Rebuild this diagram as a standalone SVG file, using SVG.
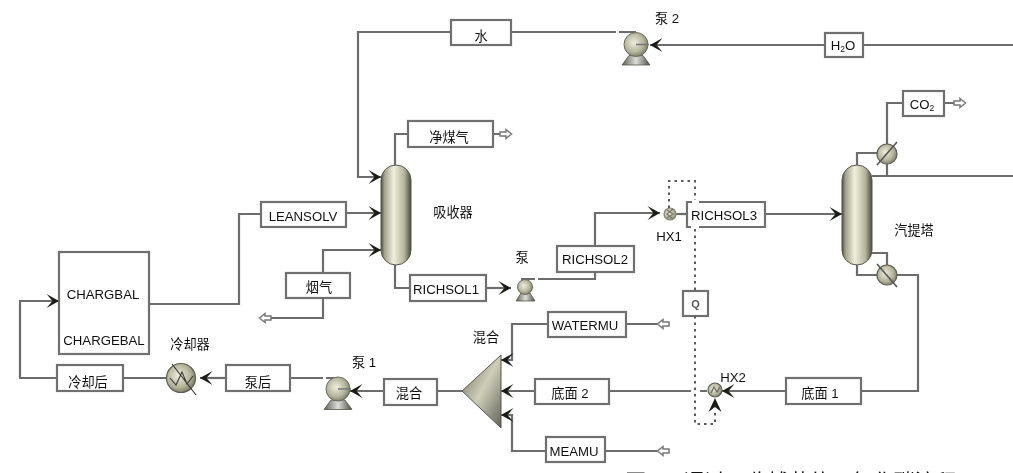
<svg xmlns="http://www.w3.org/2000/svg" width="1013" height="473" viewBox="0 0 1013 473">
<style>
text{font-family:"Liberation Sans","Noto Sans CJK SC",sans-serif;font-size:13.2px;fill:#111;text-anchor:middle}
.box{fill:#fff;stroke:#707070;stroke-width:2.2}
.ln{fill:none;stroke:#6c6c6c;stroke-width:2.2}
.dash{fill:none;stroke:#5a5a5a;stroke-width:2;stroke-dasharray:2.5 4}
.dk{fill:#1e1e18;stroke:none}
.hollow{fill:#fff;stroke:#777;stroke-width:1.5}
.hx{fill:url(#ball);stroke:#5f5f52;stroke-width:1.2}
.in{fill:none;stroke:#444;stroke-width:1.2}
</style>
<defs>
<linearGradient id="col" x1="0" x2="1" y1="0" y2="0">
<stop offset="0" stop-color="#4e4e42"/><stop offset=".12" stop-color="#a3a38c"/><stop offset=".42" stop-color="#f0efdc"/><stop offset=".78" stop-color="#b4b49c"/><stop offset="1" stop-color="#4a4a3e"/>
</linearGradient>
<radialGradient id="ball" cx=".42" cy=".42" r=".68">
<stop offset="0" stop-color="#eeeedd"/><stop offset=".6" stop-color="#b3b39a"/><stop offset="1" stop-color="#66665a"/>
</radialGradient>
<linearGradient id="tri" x1="0" x2="1" y1="0" y2="1">
<stop offset="0" stop-color="#67675a"/><stop offset=".5" stop-color="#cfcfb8"/><stop offset="1" stop-color="#62625a"/>
</linearGradient>
<linearGradient id="base" x1="0" x2="1" y1="0" y2="0">
<stop offset="0" stop-color="#5e5e52"/><stop offset=".5" stop-color="#dededa"/><stop offset="1" stop-color="#4e4e44"/>
</linearGradient>
<marker id="a" markerUnits="userSpaceOnUse" markerWidth="16" markerHeight="16" refX="13" refY="7" orient="auto" overflow="visible">
<path class="dk" d="M13 7 L0.5 0 L6.5 7 L0.5 14Z"/>
</marker>
<filter id="soft" x="-2%" y="-2%" width="104%" height="104%"><feGaussianBlur stdDeviation="0.4"/></filter>
<g id="pump"><path d="M-14 20.5 L14 20.5 L7 11 L-7 11Z" fill="url(#base)" stroke="#55554a" stroke-width=".8"/><circle r="12" fill="url(#ball)" stroke="#6a6a5e"/><path d="M0 0H13" stroke="#777" stroke-width="1.5"/></g>
<path id="out" d="M-6 -2 L0 -2 L0 -4.5 L5.5 0 L0 4.5 L0 2 L-6 2Z"/>
<path id="feed" d="M6 -2 L0 -2 L0 -4.5 L-5.5 0 L0 4.5 L0 2 L6 2Z"/>
</defs>

<g id="connectors" filter="url(#soft)">
<path class="ln" d="M451 32H358V177H381" marker-end="url(#a)"/>
<path class="ln" d="M1013 45H650" marker-end="url(#a)"/>
<path class="ln" d="M511 32H616M619 32H636"/>
<path class="ln" d="M395 165V134H408M493 134H501"/>
<path class="ln" d="M346 213H381" marker-end="url(#a)"/>
<path class="ln" d="M261 214H239V304H149"/>
<path class="ln" d="M323 273V250H381" marker-end="url(#a)"/>
<path class="ln" d="M270 318H323V298"/>
<path class="ln" d="M395 265V288H410"/>
<path class="ln" d="M486 288H511" marker-end="url(#a)"/>
<path class="ln" d="M521 279H535M538 279H595V272M595 246V213H660" marker-end="url(#a)"/>
<path class="ln" d="M676 214H687"/>
<path class="ln" d="M765 214H842" marker-end="url(#a)"/>
<path class="ln" d="M857 165V153H877M887 144V103H903M944 103H955"/>
<path class="ln" d="M872 176H1013M887 164V176"/>
<path class="ln" d="M872 253H887V265M857 265V275H877M897 275H918V391H861"/>
<path class="ln" d="M786 391H722" marker-end="url(#a)"/>
<path class="ln" d="M707 391H700M691 391H609"/>
<path class="ln" d="M535 391H501" marker-end="url(#a)"/>
<path class="ln" d="M548 324H512V360H501" marker-end="url(#a)"/>
<path class="ln" d="M546 451H512V415H501" marker-end="url(#a)"/>
<path class="ln" d="M626 324H658M605 451H658"/>
<path class="ln" d="M384 391H462"/>
<path class="ln" d="M384 391H350" marker-end="url(#a)"/>
<path class="ln" d="M338 378H326M323 378H290"/>
<path class="ln" d="M226 378H200" marker-end="url(#a)"/>
<path class="ln" d="M166 378H123M57 378H20V301H59" marker-end="url(#a)"/>
<path class="dk" d="M715 398L708.5 412L715 407L721.5 412Z"/>
</g>

<g filter="url(#soft)">
<g id="node-water"><rect class="box" x="451" y="20" width="60" height="25"/><text x="481" y="41">水</text></g>
<g id="node-pump2"><use href="#pump" x="636" y="44.5"/><text x="667" y="23">泵 2</text></g>
<g id="node-h2o"><rect class="box" x="825" y="33" width="38" height="24"/><text x="843" y="50">H<tspan font-size="8.5" dy="2">2</tspan><tspan dy="-2">O</tspan></text></g>
<g id="node-clean"><rect class="box" x="408" y="121" width="85" height="26"/><text x="449" y="142">净煤气</text><use class="hollow" href="#out" x="506" y="134"/></g>
<g id="node-absorber"><rect x="381" y="165" width="30" height="100" rx="15" fill="url(#col)" stroke="#55554a"/><text x="453" y="217">吸收器</text></g>
<g id="node-leansolv"><rect class="box" x="261" y="202" width="85" height="25"/><text x="303" y="220.5">LEANSOLV</text></g>
<g id="node-flue"><rect class="box" x="286" y="273" width="64" height="25"/><text x="319" y="292">烟气</text><use class="hollow" href="#feed" x="265" y="318"/></g>
<g id="node-chargebal"><rect class="box" x="59" y="252" width="90" height="102"/><text x="103" y="299">CHARGBAL</text><text x="104" y="345">CHARGEBAL</text></g>
<g id="node-richsol1"><rect class="box" x="410" y="275" width="76" height="26"/><text x="446" y="294">RICHSOL1</text></g>
<g id="node-pump"><path d="M516 301H535L530 293H521Z" fill="url(#base)" stroke="#55554a" stroke-width=".8"/><circle cx="525" cy="287" r="7.5" fill="url(#ball)" stroke="#6a6a5e"/><text x="522" y="262">泵</text></g>
<g id="node-richsol2"><rect class="box" x="557" y="246" width="77" height="26"/><text x="595" y="264">RICHSOL2</text></g>
<g id="node-hx1"><circle class="hx" cx="670" cy="214" r="6" style="stroke:#8a8a7a"/><path class="in" d="M667 210L673 214L667 218M673 209L667 214L673 219" style="stroke:#77776a"/><text x="669" y="241">HX1</text></g>
<g id="node-richsol3"><rect x="687" y="202" width="78" height="25" fill="#fff"/><path d="M692 202H687V227H691M699 227H765V202H699" fill="none" stroke="#707070" stroke-width="2.2"/><text x="724" y="220">RICHSOL3</text></g>
<g id="node-q"><rect class="box" x="683" y="291" width="25" height="25"/><text x="695.5" y="308" style="font-size:11px;fill:#555" font-weight="bold">Q</text></g>
<g id="node-stripper"><rect x="842" y="165" width="30" height="100" rx="15" fill="url(#col)" stroke="#55554a"/><text x="914" y="235">汽提塔</text></g>
<g id="node-condenser"><circle class="hx" cx="887" cy="154" r="10"/><path class="in" d="M877 165L897 142" style="stroke-width:1.6;stroke:#555"/></g>
<g id="node-reboiler"><circle class="hx" cx="887" cy="275" r="10"/><path class="in" d="M877 264L897 287" style="stroke-width:1.6;stroke:#555"/></g>
<g id="node-co2"><rect class="box" x="903" y="91" width="41" height="25"/><text x="922" y="109">CO<tspan font-size="8.5" dy="2">2</tspan></text><use class="hollow" href="#out" x="960" y="103"/></g>
<g id="node-bottom1"><rect class="box" x="786" y="378" width="75" height="26"/><text x="820" y="398">底面 1</text></g>
<g id="node-hx2"><circle class="hx" cx="715" cy="390" r="7"/><path class="in" d="M711 393L714 387L717 392L720 387" style="stroke:#666"/><text x="733" y="382">HX2</text></g>
<g id="node-bottom2"><rect class="box" x="535" y="379" width="74" height="25"/><text x="570" y="398">底面 2</text></g>
<g id="node-watermu"><rect class="box" x="548" y="312" width="78" height="25"/><text x="585" y="329.5">WATERMU</text><use class="hollow" href="#feed" x="663" y="324"/></g>
<g id="node-meamu"><rect class="box" x="546" y="437" width="59" height="25"/><text x="574" y="456">MEAMU</text><use class="hollow" href="#feed" x="663" y="451"/></g>
<g id="node-mixer"><path d="M462 391L501 355V428Z" fill="url(#tri)" stroke="#55554a"/><text x="486" y="342">混合</text></g>
<g id="node-mixout"><rect class="box" x="384" y="379" width="53" height="26"/><text x="409" y="398">混合</text></g>
<g id="node-pump1"><use href="#pump" x="338" y="389"/><text x="364" y="367">泵 1</text></g>
<g id="node-pumpafter"><rect class="box" x="226" y="365" width="64" height="26"/><text x="258" y="387">泵后</text></g>
<g id="node-cooler"><circle class="hx" cx="181" cy="378" r="14.5"/><path d="M170 378L176 385L182 372L187 384L193 376M172 364L196 395" fill="none" stroke="#333" stroke-width="1.1"/><text x="190" y="349">冷却器</text></g>
<g id="node-cooled"><rect class="box" x="57" y="365" width="66" height="26"/><text x="88" y="387">冷却后</text></g>
<path class="dash" d="M669 208V181H695V200M695 229V291M695 316V424H715V412"/>
</g>
<text x="791" y="489" style="font-size:21px;font-family:'Noto Sans CJK SC',sans-serif">图 3　通过吸收捕获的二氧化碳流程</text>
</svg>
